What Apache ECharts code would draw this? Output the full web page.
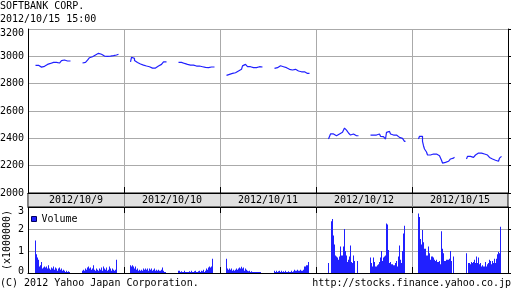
<!DOCTYPE html>
<html><head><meta charset="utf-8">
<script src="https://cdn.jsdelivr.net/npm/echarts@6/dist/echarts.min.js"></script>
<style>html,body{margin:0;padding:0;background:#fff}#c{width:512px;height:301px}</style>
</head><body><div id="c"></div>
<script>
// ---- data ----
const dayLabels = ['2012/10/9', '2012/10/10', '2012/10/11', '2012/10/12', '2012/10/15'];
const priceTicks = { min: 2000, max: 3200, step: 200 };
const volTicks = { min: 0, max: 3, step: 1 };

// price per slot, morning (AM) and afternoon (PM) sessions, null = no trade
const price1009am = [null,2934,2934,2934,2921,2921,2921,2921,2927,2927,2934,2934,2941,2941,2941,2948,2948,2956,2956,2956,2956,2956,2944,2944,2951,2961,2961,2968,2968,2973,2973,2968,2966,2966,2966,2966];
const price1009pm = [2951,2951,2956,2956,2965,2972,2980,2990,2997,2997,3005,3005,3010,3010,3022,3022,3020,3020,3015,3010,3010,3002,2995,2995,3000,3000,3002,3002,3002,3005,3005,3005,3005,3010,3015,3015];
const price1010am = [2960,2993,2993,2985,2970,2960,2955,2949,2949,2944,2944,2944,2936,2936,2936,2929,2929,2924,2924,2924,2919,2914,2914,2914,2914,2919,2924,2929,2929,2936,2941,2944,2953,2960,2960,2960];
const price1010pm = [2956,2956,2956,2952,2948,2948,2941,2941,2941,2941,2936,2936,2936,2936,2936,2929,2929,2929,2929,2924,2929,2924,2924,2924,2924,2919,2919,2924,2919,2917,2917,2917,2922,2917,2917,2922];
const price1011am = [2861,2861,2868,2868,2868,2875,2875,2875,2880,2887,2887,2893,2900,2900,2905,2917,2930,2941,2941,2936,2930,2924,2924,2924,2924,2917,2917,2924,2924,2917,2917,2924,2924,2924,2922,2922];
const price1011pm = [2912,2912,2917,2924,2928,2931,2931,2924,2924,2917,2917,2917,2912,2912,2905,2905,2905,2900,2900,2900,2905,2900,2893,2893,2893,2893,2887,2887,2887,2887,2887,2875,2875,2875,2875,null];
const price1012am = [null,null,null,null,null,null,2395,2395,2432,2432,2432,2432,2419,2419,2427,2427,2432,2432,2439,2444,2444,2444,2475,2488,2460,2456,2439,2439,2424,2432,2432,2424,2424,2419,2419,2419];
const price1012pm = [2424,2424,2424,2424,2424,2424,2428,2432,2432,2424,2415,2415,2412,2407,2407,2395,2444,2451,2451,2439,2432,2432,2424,2419,2424,2424,2419,2412,2407,2407,2405,2400,2400,2390,2378,null];
const price1015am = [2395,2415,2415,2415,2378,2346,2322,2310,2300,2278,2278,2278,2278,2285,2285,2278,2285,2285,2278,2278,2273,2273,2261,2240,2219,2219,2224,2224,2232,2232,2240,2240,2249,2249,2255,2261];
const price1015pm = [2249,2268,2268,2268,2268,2264,2261,2261,2270,2278,2285,2292,2292,2292,2292,2285,2285,2285,2282,2278,2278,2272,2268,2260,2249,2249,2249,2245,2240,2236,2232,2232,2245,2255,2268,null];

// volume per slot (millions of shares)
const vol1009am = [null,1.48,0.85,0.7,0.6,0.3,0.35,0.5,0.2,0.25,0.3,0.25,0.3,0.2,0.35,0.2,0.15,0.25,0.2,0.3,0.15,0.25,0.2,0.1,0.2,0.25,0.15,0.2,0.1,0.15,0.1,0.05,0.1,0.05,0.08,0.05];
const vol1009pm = [0.1,0.15,0.1,0.2,0.15,0.25,0.3,0.2,0.25,0.15,0.2,0.35,0.15,0.1,0.2,0.15,0.1,0.2,0.15,0.25,0.1,0.3,0.2,0.15,0.25,0.1,0.15,0.3,0.2,0.1,0.2,0.15,0.1,0.15,0.6,null];
const vol1010am = [0.35,0.3,0.35,0.3,0.2,0.3,0.15,0.2,0.1,0.15,0.1,0.15,0.1,0.2,0.15,0.2,0.15,0.2,0.1,0.2,0.15,0.2,0.1,0.15,0.2,0.1,0.15,0.1,0.15,0.1,0.1,0.15,0.25,0.1,0.05,0.05];
const vol1010pm = [0.1,0.1,0.05,0.08,0.05,0.05,0.1,0.05,0.05,0.05,0.05,0.08,0.05,0.1,0.05,0.05,0.08,0.1,0.05,0.05,0.08,0.1,0.05,0.1,0.08,0.15,0.05,0.1,0.2,0.15,0.25,0.3,0.25,0.3,0.65,null];
const vol1011am = [0.65,0.2,0.15,0.2,0.15,0.2,0.1,0.15,0.1,0.15,0.2,0.15,0.2,0.25,0.2,0.28,0.2,0.25,0.1,0.2,0.15,0.1,0.08,0.1,0.05,0.08,0.05,0.05,0.05,0.05,0.05,0.05,0.05,0.05,0.05,null];
const vol1011pm = [0.1,0.05,0.1,0.05,0.08,0.1,0.05,0.1,0.05,0.08,0.05,0.1,0.05,0.05,0.08,0.05,0.05,0.1,0.05,0.08,0.15,0.1,0.1,0.15,0.1,0.1,0.15,0.1,0.1,0.15,0.3,0.3,0.35,0.35,0.5,null];
const vol1012am = [null,null,null,null,null,null,0.45,null,null,2.35,2.45,1.7,1.3,0.8,0.75,0.7,0.6,0.75,1.2,0.8,0.8,1.2,2.0,1.0,0.8,0.5,0.6,0.75,1.25,0.5,0.45,0.8,0.55,null,null,0.55];
const vol1012pm = [0.7,0.45,0.3,0.7,0.5,0.3,0.3,0.35,0.4,0.5,0.7,1.0,0.55,0.7,0.75,0.8,2.25,2.2,1.05,0.45,0.5,0.4,0.4,0.35,0.35,0.45,0.55,0.3,0.75,1.25,0.6,0.45,1.0,1.8,2.15,null];
const vol1015am = [2.7,2.55,1.55,1.3,1.95,1.4,1.1,1.1,0.8,0.8,1.2,0.9,0.6,0.75,0.75,0.7,0.6,0.55,0.6,0.5,0.5,0.55,0.4,1.9,1.1,0.9,0.55,0.55,0.6,0.6,0.6,0.65,1.0,0.55,null,0.75];
const vol1015pm = [0.9,null,0.45,0.45,0.4,0.5,0.45,0.5,0.6,0.45,0.75,0.45,0.7,0.4,0.45,0.3,0.35,0.3,0.3,0.5,0.3,0.4,0.45,0.6,0.55,0.4,0.55,0.45,0.65,0.45,0.65,0.85,0.95,0.9,2.1,null];

// session structure: slots per day and where each session starts within a day
const SLOTS_PER_DAY = 96, AM_START = 6, PM_START = 54;

const priceSessions = [[price1009am, price1009pm],[price1010am, price1010pm],[price1011am, price1011pm],[price1012am, price1012pm],[price1015am, price1015pm]];
const volSessions = [[vol1009am, vol1009pm],[vol1010am, vol1010pm],[vol1011am, vol1011pm],[vol1012am, vol1012pm],[vol1015am, vol1015pm]];

function flatten(sessions, breakLines) {
  const out = [];
  sessions.forEach((pair, d) => {
    [AM_START, PM_START].forEach((start, s) => {
      const arr = pair[s];
      arr.forEach((v, i) => {
        out.push([d * SLOTS_PER_DAY + start + i + 0.5, v == null ? '-' : v]);
      });
      if (breakLines) out.push([d * SLOTS_PER_DAY + start + arr.length + 0.5, '-']);
    });
  });
  return out;
}
const priceData = flatten(priceSessions, true);
const volData = flatten(volSessions, false).filter(p => p[1] !== '-');

const FONT = 'DejaVu Sans Mono';
const BLUE = '#2020ff';
const GRIDC = '#aaaaaa';
const txt = { fontFamily: FONT, fontSize: 10, color: '#000' };

const chart = echarts.init(document.getElementById('c'), null, { renderer: 'canvas' });
const xBase = (gi) => ({
  gridIndex: gi, type: 'value', min: 0, max: SLOTS_PER_DAY * dayLabels.length, interval: SLOTS_PER_DAY,
  axisLabel: { show: false },
  axisLine: { show: true, onZero: false, lineStyle: { color: '#000', width: 1 } },
  axisTick: { show: true, inside: true, length: 6, lineStyle: { color: '#000' } },
  splitLine: { show: true, lineStyle: { color: GRIDC, width: 1 } }
});
const gridBase = { left: 28, width: 480, outerBoundsMode: 'none', containLabel: false };

chart.setOption({
  animation: false,
  backgroundColor: '#fff',
  title: [
    { text: 'SOFTBANK CORP.', left: 0, top: 1, padding: 0, textStyle: Object.assign({ fontWeight: 'normal' }, txt) },
    { text: '2012/10/15 15:00', left: 0, top: 14, padding: 0, textStyle: Object.assign({ fontWeight: 'normal' }, txt) },
    { text: '(C) 2012 Yahoo Japan Corporation.', left: 0, top: 278, padding: 0, textStyle: Object.assign({ fontWeight: 'normal' }, txt) },
    { text: 'http://stocks.finance.yahoo.co.jp', right: 1, top: 278, padding: 0, textStyle: Object.assign({ fontWeight: 'normal' }, txt) }
  ],
  legend: {
    data: ['Volume'], left: 31, top: 214, icon: 'rect', itemWidth: 5, itemHeight: 5,
    selectedMode: false, padding: 0,
    itemStyle: { borderColor: '#000060', borderWidth: 1 },
    textStyle: txt
  },
  grid: [
    Object.assign({ top: 29, height: 164 }, gridBase),
    Object.assign({ top: 193, height: 14, show: true, backgroundColor: '#e0e0e0', borderColor: '#000', borderWidth: 1 }, gridBase),
    Object.assign({ top: 207, height: 66 }, gridBase)
  ],
  xAxis: [
    xBase(0),
    { gridIndex: 1, type: 'category', data: dayLabels, boundaryGap: true,
      axisLine: { show: false }, axisTick: { show: false },
      axisLabel: Object.assign({ inside: true, margin: 7, verticalAlign: 'middle' }, txt),
      splitLine: { show: true, lineStyle: { color: '#888', width: 1 } } },
    xBase(2),
    Object.assign(xBase(2), { position: 'top', splitLine: { show: false } })
  ],
  yAxis: [
    { gridIndex: 0, type: 'value', position: 'left', min: priceTicks.min, max: priceTicks.max, interval: priceTicks.step,
      axisLine: { show: true, onZero: false, lineStyle: { color: '#000' } }, axisTick: { show: false },
      axisLabel: Object.assign({ margin: 4, formatter: v => v === priceTicks.max ? '{dn|' + v + '}' : '' + v,
        rich: { dn: { fontFamily: FONT, fontSize: 10, color: '#000', padding: [8, 0, 0, 0] } } }, txt),
      splitLine: { show: true, lineStyle: { color: GRIDC } } },
    { gridIndex: 0, type: 'value', position: 'right', min: priceTicks.min, max: priceTicks.max, interval: priceTicks.step,
      axisLine: { show: true, onZero: false, lineStyle: { color: '#000' } },
      axisTick: { show: true, inside: false, length: 3, lineStyle: { color: '#000' } },
      axisLabel: { show: false }, splitLine: { show: false } },
    { gridIndex: 1, type: 'value', show: false },
    { gridIndex: 2, type: 'value', position: 'left', min: volTicks.min, max: volTicks.max, interval: volTicks.step,
      name: '(x1000000)', nameLocation: 'middle', nameGap: 16, nameRotate: 90, nameMoveOverlap: false, nameTextStyle: txt,
      axisLine: { show: true, onZero: false, lineStyle: { color: '#000' } }, axisTick: { show: false },
      axisLabel: Object.assign({ margin: 4, formatter: v => v === volTicks.max ? '{dn|' + v + '}' : (v === volTicks.min ? '{up|' + v + '}' : '' + v),
        rich: { dn: { fontFamily: FONT, fontSize: 10, color: '#000', padding: [9, 0, 0, 0] },
                up: { fontFamily: FONT, fontSize: 10, color: '#000', padding: [0, 0, 4, 0] } } }, txt),
      splitLine: { show: true, lineStyle: { color: GRIDC } } },
    { gridIndex: 2, type: 'value', position: 'right', min: volTicks.min, max: volTicks.max, interval: volTicks.step,
      axisLine: { show: true, onZero: false, lineStyle: { color: '#000' } },
      axisTick: { show: true, inside: false, length: 3, lineStyle: { color: '#000' } },
      axisLabel: { show: false }, splitLine: { show: false } }
  ],
  series: [
    { name: 'Price', type: 'line', xAxisIndex: 0, yAxisIndex: 0, data: priceData, step: 'end',
      showSymbol: false, connectNulls: false, lineStyle: { color: BLUE, width: 1.2 }, itemStyle: { color: BLUE } },
    { name: 'Volume', type: 'bar', xAxisIndex: 2, yAxisIndex: 3, data: volData, barWidth: 1,
      itemStyle: { color: BLUE } }
  ]
});
</script></body></html>
